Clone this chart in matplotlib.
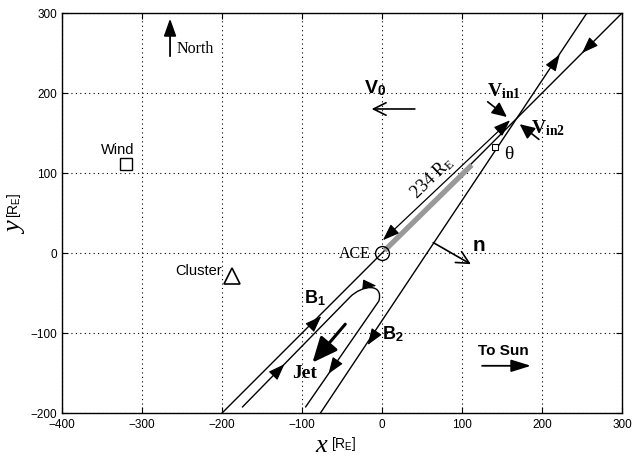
import matplotlib
matplotlib.use("Agg")
import matplotlib.pyplot as plt
import numpy as np
from matplotlib.path import Path
from matplotlib.patches import PathPatch

plt.rcParams['font.family'] = ['Liberation Sans', 'DejaVu Sans']
plt.rcParams['mathtext.fontset'] = 'custom'
plt.rcParams['mathtext.rm'] = 'Liberation Serif'
plt.rcParams['mathtext.it'] = 'Liberation Serif:italic'
plt.rcParams['mathtext.bf'] = 'Liberation Serif:bold'
plt.rcParams['mathtext.sf'] = 'Liberation Sans:bold'

# ---- data (R_E) ----
xticks = [-400, -300, -200, -100, 0, 100, 200, 300]
yticks = [-200, -100, 0, 100, 200, 300]

line1_x = [-200, 300]          # shallow field line (B1)
line1_y = [-200, 300]
line2_x = [-77, 256]           # steep field line (B2)
line2_y = [-200, 300]
xpoint = (166, 165)

gray_x = [3, 112]
gray_y = [3, 110]

dim_start = (1, 16)
dim_end = (160, 166)

loop_leg1 = [(-175, -193), (-40, -55)]
loop_ctrl = [(-25, -40), (2, -37), (-4, -60)]
loop_leg2 = [(-96, -193)]

ace = (0, 0)
wind = (-320, 111)
cluster = (-187, -29)

# ---- figure ----
fig = plt.figure(figsize=(6.33, 4.60), dpi=100)
ax = fig.add_axes([0.098, 0.1, 0.8848, 0.8696])
ax.set_xlim(-400, 300)
ax.set_ylim(-200, 300)
ax.set_xticks(xticks)
ax.set_yticks(yticks)
ax.set_xticklabels([f"\u2212{abs(v)}" if v < 0 else str(v) for v in xticks])
ax.set_yticklabels([f"\u2212{abs(v)}" if v < 0 else str(v) for v in yticks])
ax.tick_params(direction='in', top=True, right=True, length=4, labelsize=8.5, width=0.8)
ax.grid(True, linestyle=(0, (1, 3)), color='k', linewidth=0.8)
for s in ax.spines.values():
    s.set_linewidth(1.0)

# field lines
ax.plot(line1_x, line1_y, color='k', lw=1.0)
ax.plot(line2_x, line2_y, color='k', lw=1.0)
ax.plot(gray_x, gray_y, color='#999999', lw=3.8, solid_capstyle='butt')

def head(x, y, dx, dy, ms=17):
    n = np.hypot(dx, dy)
    ax.annotate('', xy=(x, y), xytext=(x - 6 * dx / n, y - 6 * dy / n),
                arrowprops=dict(arrowstyle='-|>,head_length=0.6,head_width=0.22',
                                color='k', lw=0.8, mutation_scale=ms,
                                shrinkA=0, shrinkB=0))

s1 = (line1_x[1] - line1_x[0], line1_y[1] - line1_y[0])
s2 = (line2_x[1] - line2_x[0], line2_y[1] - line2_y[0])
head(-76, -79, *s1)
head(250, 250, -s1[0], -s1[1])
head(222, 248, *s2)
head(-18, -115, -s2[0], -s2[1])

# dimension arrow ACE <-> X-line
ax.annotate('', xy=dim_start, xytext=dim_end,
            arrowprops=dict(arrowstyle='<|-|>,head_length=0.6,head_width=0.22',
                            color='k', lw=0.9, mutation_scale=17, shrinkA=0, shrinkB=0))
ax.text(63, 95, r'$\mathrm{234\ R_E}$', rotation=44, fontsize=13,
        ha='center', va='center', rotation_mode='anchor')

# right-angle marker and theta
ax.plot([141], [133], marker='s', ms=4.5, mfc='white', mec='k', mew=0.8)
ax.text(152, 124, '\u03b8', family='Liberation Serif', fontsize=14, ha='left', va='center')

# inner loop (jet field line)
verts = [loop_leg1[0], loop_leg1[1]] + loop_ctrl + loop_leg2
codes = [Path.MOVETO, Path.LINETO, Path.CURVE4, Path.CURVE4, Path.CURVE4, Path.LINETO]
ax.add_patch(PathPatch(Path(verts, codes), fc='none', ec='k', lw=1.0))
head(-122, -139, 1, 1.02)
head(-7, -41, 1, -0.1, ms=14)
head(-67, -151, -91, -132)

# jet arrow
ax.annotate('', xy=(-87, -137), xytext=(-46, -89),
            arrowprops=dict(arrowstyle='-|>,head_length=0.9,head_width=0.4',
                            color='k', lw=2.2, mutation_scale=17, shrinkA=0, shrinkB=0))
ax.text(-97, -149, 'Jet', family='Liberation Serif', fontweight='bold', fontsize=14,
        ha='center', va='center')

# B labels
ax.text(-84, -55, r'$\mathsf{B}_{\mathsf{1}}$', fontsize=13, ha='center', va='center')
ax.text(13, -100, r'$\mathsf{B}_{\mathsf{2}}$', fontsize=13, ha='center', va='center')

# normal n
ax.annotate('', xy=(111, -14), xytext=(64, 13),
            arrowprops=dict(arrowstyle='->,head_length=0.6,head_width=0.3',
                            color='k', lw=1.2, mutation_scale=15, shrinkA=0, shrinkB=0))
ax.text(113, 10, 'n', fontweight='bold', fontsize=15, ha='left', va='center')

# V0
ax.annotate('', xy=(-13, 180), xytext=(41, 180),
            arrowprops=dict(arrowstyle='->,head_length=0.6,head_width=0.3',
                            color='k', lw=1.2, mutation_scale=15, shrinkA=0, shrinkB=0))
ax.text(-22, 207, r'$\mathsf{V}_{\mathsf{0}}$', fontsize=14, ha='left', va='center')

# Vin1, Vin2
ax.annotate('', xy=(156, 170), xytext=(132, 189),
            arrowprops=dict(arrowstyle='-|>,head_length=0.6,head_width=0.28',
                            color='k', lw=1.2, mutation_scale=15, shrinkA=0, shrinkB=0))
ax.text(131, 203, r'$\mathbf{V}_{\mathbf{in1}}$', fontsize=14, ha='left', va='center')
ax.annotate('', xy=(172, 161), xytext=(196, 142),
            arrowprops=dict(arrowstyle='-|>,head_length=0.6,head_width=0.28',
                            color='k', lw=1.2, mutation_scale=15, shrinkA=0, shrinkB=0))
ax.text(186, 157, r'$\mathbf{V}_{\mathbf{in2}}$', fontsize=14, ha='left', va='center')

# North
ax.annotate('', xy=(-265, 293), xytext=(-265, 246),
            arrowprops=dict(arrowstyle='-|>,head_length=0.7,head_width=0.25',
                            color='k', lw=1.3, mutation_scale=15, shrinkA=0, shrinkB=0))
ax.text(-257, 256, 'North', family='Liberation Serif', fontsize=11.5, ha='left', va='center')

# To Sun
ax.annotate('', xy=(186, -141), xytext=(125, -141),
            arrowprops=dict(arrowstyle='-|>,head_length=0.8,head_width=0.25',
                            color='k', lw=1.3, mutation_scale=15, shrinkA=0, shrinkB=0))
ax.text(152, -121, 'To Sun', fontweight='bold', fontsize=11, ha='center', va='center')

# spacecraft
ax.plot(*ace, marker='o', ms=10, mfc='none', mec='k', mew=1.0)
ax.text(-14, 0, 'ACE', family='Liberation Serif', fontsize=11.5, ha='right', va='center')
ax.plot(*wind, marker='s', ms=8, mfc='none', mec='k', mew=1.0)
ax.text(-330, 130, 'Wind', fontsize=10.5, ha='center', va='center')
ax.plot(*cluster, marker='^', ms=11, mfc='none', mec='k', mew=1.2)
ax.text(-200, -21, 'Cluster', fontsize=10.5, ha='right', va='center')

# axis labels (centred on the axes, as in the reference)
fig.text(327 / 633, 1 - 446 / 460, 'x', family='Liberation Serif', style='italic',
         fontsize=19, ha='right', va='center')
fig.text(331 / 633, 1 - 444 / 460, r'[R$_{\mathregular{E}}$]', fontsize=10,
         ha='left', va='center')
fig.text(16 / 633, 1 - 222 / 460, 'y', family='Liberation Serif', style='italic',
         fontsize=19, ha='center', va='top', rotation=90)
fig.text(14 / 633, 1 - 218 / 460, r'[R$_{\mathregular{E}}$]', fontsize=10,
         ha='center', va='bottom', rotation=90)

fig.savefig('out.png', dpi=100)
